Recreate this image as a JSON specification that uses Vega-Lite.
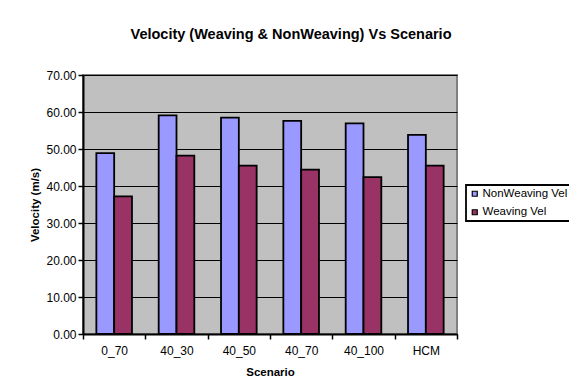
{
  "$schema": "https://vega.github.io/schema/vega-lite/v6.json",
  "width": 374,
  "height": 259,
  "autosize": {"type": "none"},
  "padding": {"left": 83, "top": 75, "right": 112, "bottom": 57},
  "background": "white",
  "title": {
    "text": "Velocity (Weaving & NonWeaving) Vs Scenario",
    "font": "Liberation Sans",
    "fontSize": 14.5,
    "fontWeight": "bold",
    "color": "black",
    "anchor": "middle",
    "dx": 21,
    "offset": 27
  },
  "config": {
    "view": {"fill": "#C0C0C0", "stroke": "#808080", "strokeWidth": 2},
    "font": "Liberation Sans"
  },
  "data": {
    "values": [
      {"scenario": "0_70", "series": "NonWeaving Vel", "velocity": 48.9},
      {"scenario": "0_70", "series": "Weaving Vel", "velocity": 37.2},
      {"scenario": "40_30", "series": "NonWeaving Vel", "velocity": 59.1},
      {"scenario": "40_30", "series": "Weaving Vel", "velocity": 48.2},
      {"scenario": "40_50", "series": "NonWeaving Vel", "velocity": 58.5},
      {"scenario": "40_50", "series": "Weaving Vel", "velocity": 45.5},
      {"scenario": "40_70", "series": "NonWeaving Vel", "velocity": 57.6},
      {"scenario": "40_70", "series": "Weaving Vel", "velocity": 44.4},
      {"scenario": "40_100", "series": "NonWeaving Vel", "velocity": 56.9},
      {"scenario": "40_100", "series": "Weaving Vel", "velocity": 42.4},
      {"scenario": "HCM", "series": "NonWeaving Vel", "velocity": 53.8},
      {"scenario": "HCM", "series": "Weaving Vel", "velocity": 45.5}
    ]
  },
  "mark": {"type": "bar", "stroke": "black", "strokeWidth": 1.8},
  "encoding": {
    "x": {
      "field": "scenario",
      "type": "nominal",
      "sort": ["0_70", "40_30", "40_50", "40_70", "40_100", "HCM"],
      "scale": {"paddingInner": 0, "paddingOuter": 0},
      "axis": {
        "title": "Scenario",
        "titleFont": "Liberation Sans",
        "titleFontSize": 11.5,
        "titleFontWeight": "bold",
        "titleColor": "black",
        "titlePadding": 10,
        "labelAngle": 0,
        "labelFont": "Liberation Sans",
        "labelFontSize": 12,
        "labelColor": "black",
        "labelPadding": 6,
        "tickBand": "extent",
        "tickColor": "black",
        "tickSize": 5,
        "tickWidth": 1.5,
        "domainColor": "black",
        "domainWidth": 2,
        "grid": false
      }
    },
    "xOffset": {
      "field": "series",
      "type": "nominal",
      "scale": {"paddingInner": 0, "paddingOuter": 0.75}
    },
    "y": {
      "field": "velocity",
      "type": "quantitative",
      "scale": {"domain": [0, 70], "nice": false},
      "axis": {
        "title": "Velocity (m/s)",
        "titleFont": "Liberation Sans",
        "titleFontSize": 11.5,
        "titleFontWeight": "bold",
        "titleColor": "black",
        "titlePadding": 5,
        "values": [0, 10, 20, 30, 40, 50, 60, 70],
        "format": ".2f",
        "labelFont": "Liberation Sans",
        "labelFontSize": 12,
        "labelColor": "black",
        "labelPadding": 2,
        "tickColor": "black",
        "tickSize": 5,
        "tickWidth": 1.5,
        "domainColor": "black",
        "domainWidth": 2,
        "grid": true,
        "gridColor": "black",
        "gridWidth": 1,
        "gridOpacity": 1
      }
    },
    "color": {
      "field": "series",
      "type": "nominal",
      "scale": {"domain": ["NonWeaving Vel", "Weaving Vel"], "range": ["#9999FF", "#993366"]},
      "legend": {
        "title": null,
        "orient": "none",
        "legendX": 383,
        "legendY": 110,
        "strokeColor": "black",
        "fillColor": "white",
        "padding": 3,
        "symbolType": "square",
        "symbolSize": 25,
        "symbolStrokeColor": "black",
        "symbolStrokeWidth": 1.2,
        "labelFont": "Liberation Sans",
        "labelFontSize": 11.5,
        "labelColor": "black",
        "rowPadding": 5.5,
        "labelOffset": 2,
        "encode": {"legend": {"update": {"strokeWidth": {"value": 1.8}}}}
      }
    }
  }
}
